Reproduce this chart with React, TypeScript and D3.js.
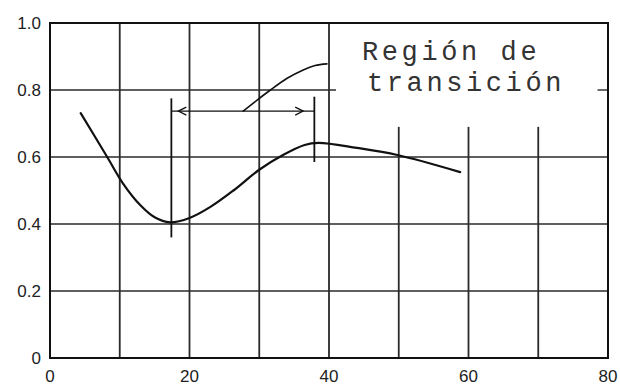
import React from "react";
import * as d3 from "d3";

const xTicks = [0, 20, 40, 60, 80];
const yTicks = [0, 0.2, 0.4, 0.6, 0.8, 1.0];
const yTickLabels = ["0", "0.2", "0.4", "0.6", "0.8", "1.0"];

// grid
const fullVGrid = [10, 20, 30, 40];
const shortVGrid = [50, 60, 70];
const shortVGridTop = 0.69;
const fullHGrid = [0.2, 0.4, 0.6];
const partialHGrid = 0.8;
const partialHGridEnd = 41;
const rightStubStart = 78.5;

// main curve
const mainX = [4.4, 8.2, 10.5, 13.0, 15.0, 17.2, 20.0, 23.0, 26.3, 30.0, 33.4, 36.5, 38.5, 44.0, 49.8, 58.8];
const mainY = [0.731, 0.600, 0.520, 0.455, 0.420, 0.405, 0.418, 0.451, 0.500, 0.562, 0.606, 0.636, 0.642, 0.627, 0.606, 0.555];

// upper curve
const upperX = [27.7, 29.7, 31.6, 34.0, 36.3, 38.0, 39.7];
const upperY = [0.737, 0.77, 0.8, 0.835, 0.86, 0.873, 0.878];

// transition markers
const barLeftX = 17.4;
const barLeftRange = [0.36, 0.775];
const barRightX = 37.9;
const barRightRange = [0.585, 0.78];
const arrowY = 0.737;
const arrowTipLeft = 18.4;
const arrowTipRight = 36.3;

const labelLines = ["Región de", "transición"];

export default function App() {
  const W = 620, H = 387;
  const x = d3.scaleLinear().domain([0, 80]).range([50, 608]);
  const y = d3.scaleLinear().domain([0, 1]).range([358, 23]);

  const line = d3
    .line<[number, number]>()
    .x((d) => x(d[0]))
    .y((d) => y(d[1]))
    .curve(d3.curveCatmullRom.alpha(0.5));

  const mainPts = mainX.map((v, i) => [v, mainY[i]] as [number, number]);
  const upperPts = upperX.map((v, i) => [v, upperY[i]] as [number, number]);

  const gridStroke = "#2a2a2a";
  const ink = "#111";

  const ah = 8, aw = 4;
  const ay = y(arrowY);

  return (
    <svg
      width={W}
      height={H}
      style={{ position: "absolute", left: 0, top: 0, background: "#fff" }}
    >
      <rect x={0} y={0} width={W} height={H} fill="#fff" />
      {/* grid */}
      <g stroke={gridStroke} strokeWidth={1.4}>
        {fullHGrid.map((v) => (
          <line key={"h" + v} x1={x(0)} x2={x(80)} y1={y(v)} y2={y(v)} />
        ))}
        <line x1={x(0)} x2={x(partialHGridEnd)} y1={y(partialHGrid)} y2={y(partialHGrid)} />
        <line x1={x(rightStubStart)} x2={x(80)} y1={y(partialHGrid)} y2={y(partialHGrid)} />
        {fullVGrid.map((v) => (
          <line key={"v" + v} x1={x(v)} x2={x(v)} y1={y(0)} y2={y(1)} strokeWidth={1.8} />
        ))}
        {shortVGrid.map((v) => (
          <line key={"s" + v} x1={x(v)} x2={x(v)} y1={y(0)} y2={y(shortVGridTop)} strokeWidth={1.8} />
        ))}
      </g>
      {/* frame */}
      <rect
        x={x(0)}
        y={y(1)}
        width={x(80) - x(0)}
        height={y(0) - y(1)}
        fill="none"
        stroke={ink}
        strokeWidth={2}
      />
      {/* curves */}
      <path d={line(mainPts) || ""} fill="none" stroke={ink} strokeWidth={2.2} strokeLinecap="round" />
      <path d={line(upperPts) || ""} fill="none" stroke={ink} strokeWidth={1.6} strokeLinecap="round" />
      {/* transition markers */}
      <g stroke={ink} fill="none">
        <line x1={x(barLeftX)} x2={x(barLeftX)} y1={y(barLeftRange[0])} y2={y(barLeftRange[1])} strokeWidth={1.8} />
        <line x1={x(barRightX)} x2={x(barRightX)} y1={y(barRightRange[0])} y2={y(barRightRange[1])} strokeWidth={1.8} />
        <line x1={x(barLeftX)} x2={x(barRightX)} y1={ay} y2={ay} strokeWidth={1.3} />
        <path
          d={`M${x(arrowTipLeft) + ah},${ay - aw} L${x(arrowTipLeft)},${ay} L${x(arrowTipLeft) + ah},${ay + aw}`}
          strokeWidth={1.3}
        />
        <path
          d={`M${x(arrowTipRight) - ah},${ay - aw} L${x(arrowTipRight)},${ay} L${x(arrowTipRight) - ah},${ay + aw}`}
          strokeWidth={1.3}
        />
      </g>
      {/* tick labels */}
      <g fontFamily="'Liberation Sans', Arial, sans-serif" fontSize={17} fill="#222">
        {yTicks.map((v, i) => (
          <text key={"yl" + v} x={41} y={y(v)} textAnchor="end" dominantBaseline="central">
            {yTickLabels[i]}
          </text>
        ))}
        {xTicks.map((v) => (
          <text key={"xl" + v} x={x(v)} y={382} textAnchor="middle">
            {v}
          </text>
        ))}
      </g>
      {/* annotation */}
      <g fontFamily="'Liberation Mono', 'Courier New', monospace" fontSize={27} fill="#333" letterSpacing={3.6}>
        <text x={362} y={60}>{labelLines[0]}</text>
        <text x={367} y={91}>{labelLines[1]}</text>
      </g>
    </svg>
  );
}
